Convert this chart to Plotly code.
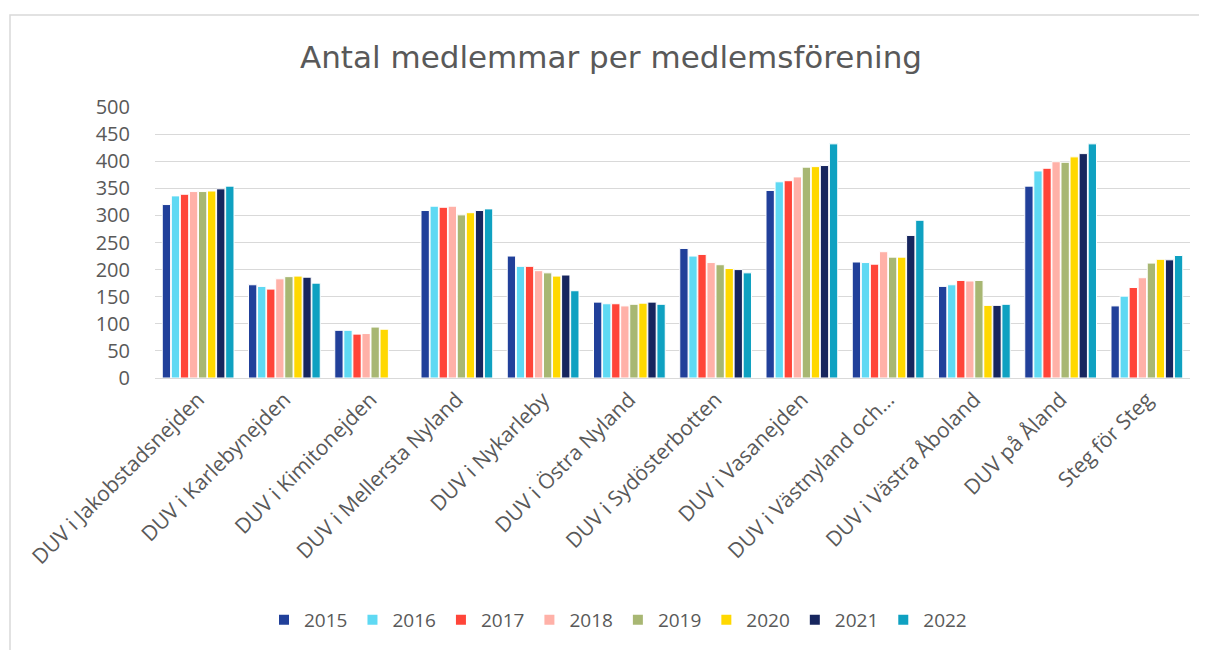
import plotly.graph_objects as go

categories = [
    "DUV i Jakobstadsnejden", "DUV i Karlebynejden", "DUV i Kimitonejden",
    "DUV i Mellersta Nyland", "DUV i Nykarleby", "DUV i Östra Nyland",
    "DUV i Sydösterbotten", "DUV i Vasanejden", "DUV i Västnyland och…",
    "DUV i Västra Åboland", "DUV på Åland", "Steg för Steg",
]
years = ["2015", "2016", "2017", "2018", "2019", "2020", "2021", "2022"]

v2015 = [320, 172, 88, 309, 225, 140, 239, 346, 214, 169, 354, 133]
v2016 = [336, 169, 88, 317, 206, 137, 225, 362, 213, 172, 382, 151]
v2017 = [339, 164, 81, 315, 206, 137, 228, 364, 210, 180, 387, 167]
v2018 = [344, 183, 82, 317, 198, 133, 213, 371, 233, 179, 399, 185]
v2019 = [344, 187, 94, 301, 194, 136, 209, 389, 223, 180, 398, 212]
v2020 = [345, 188, 90, 305, 188, 138, 202, 390, 223, 134, 408, 219]
v2021 = [349, 186, None, 309, 190, 140, 200, 392, 263, 134, 414, 218]
v2022 = [354, 175, None, 312, 161, 136, 194, 432, 291, 136, 432, 226]

series = [v2015, v2016, v2017, v2018, v2019, v2020, v2021, v2022]
colors = ["#21409A", "#5FD9F3", "#FF4539", "#FFB1A8", "#A8B773",
          "#FFD800", "#17265E", "#0FA1C1"]

fig = go.Figure()
for name, vals, col in zip(years, series, colors):
    fig.add_trace(go.Bar(
        name=name, x=categories, y=vals,
        marker=dict(color=col, line=dict(color="white", width=1)),
    ))

OFF = 8  # page body margin
W, H = 1207 - OFF, 650 - OFF
L, T = 155 - OFF, 107 - OFF
R = 1207 - 1190
B = 650 - 378
pw, ph = W - L - R, H - T - B

def px_x(p):
    return (p - OFF - L) / pw

def px_y(p):
    return (H - B - (p - OFF)) / ph

fig.update_layout(
    width=W, height=H,
    margin=dict(l=L, r=R, t=T, b=B, autoexpand=False),
    paper_bgcolor="white", plot_bgcolor="white",
    barmode="group", bargap=0.16, bargroupgap=0.08,
    title=dict(text="Antal medlemmar per medlemsförening",
               x=(611 - OFF) / W, xref="container", xanchor="center",
               y=1 - (57 - OFF) / H, yref="container", yanchor="middle",
               font=dict(family="DejaVu Sans", size=31, color="#595959")),
    font=dict(family="Open Sans", color="#595959"),
    xaxis=dict(tickangle=-45, tickfont=dict(size=21, color="#595959"),
               showline=True, linecolor="#D9D9D9", linewidth=1,
               ticks="", showgrid=False, automargin=False),
    yaxis=dict(range=[0, 500], dtick=50, tickfont=dict(size=20, color="#595959"),
               showgrid=True, gridcolor="#D9D9D9", gridwidth=1,
               zeroline=False, ticks="outside", ticklen=20, tickcolor="white",
               automargin=False),
    legend=dict(orientation="h", x=px_x(618), xanchor="center",
                y=px_y(620), yanchor="middle",
                font=dict(size=19, color="#595959"),
                itemsizing="constant", itemwidth=30, tracegroupgap=0),
    shapes=[dict(type="rect", xref="paper", yref="paper",
                 x0=px_x(10), x1=px_x(1240), y0=px_y(680), y1=px_y(15),
                 line=dict(color="#D9D9D9", width=1.5), layer="below")],
    showlegend=True,
)

fig.write_html("out.html")
